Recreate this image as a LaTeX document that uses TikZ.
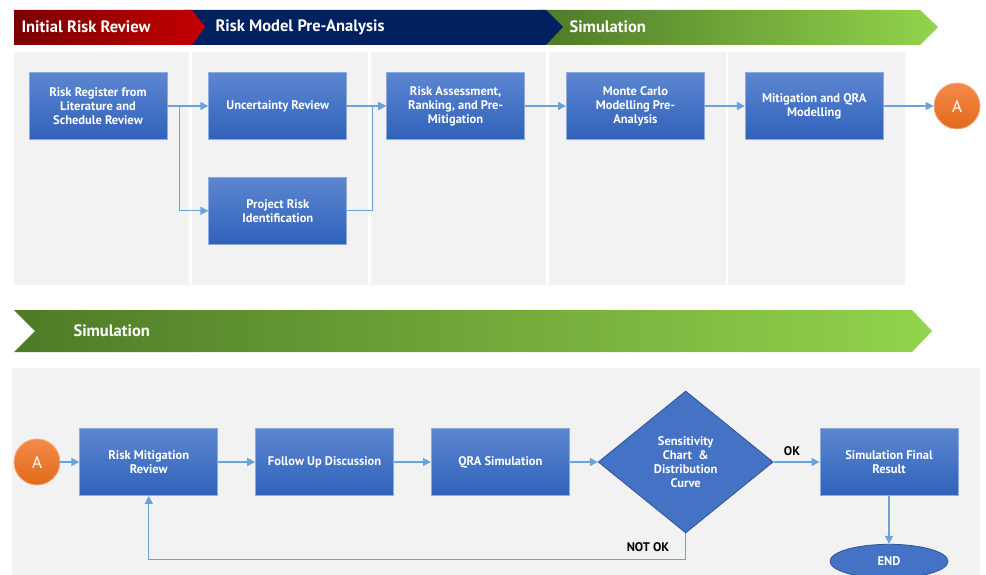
\documentclass[tikz,border=0pt]{standalone}
\usepackage{fontspec}
\setmainfont{PT Sans}
\usepackage{tikz}
\usetikzlibrary{arrows.meta, positioning, shapes.geometric}

\definecolor{panelgray}{RGB}{242,242,242}
\definecolor{boxtop}{RGB}{93,134,208}
\definecolor{boxbot}{RGB}{47,98,186}
\definecolor{boxrim}{RGB}{143,170,220}
\definecolor{diafill}{RGB}{68,114,196}
\definecolor{diarim}{RGB}{47,85,151}
\definecolor{flowblue}{RGB}{106,163,218}
\definecolor{orangetop}{RGB}{244,138,74}
\definecolor{orangebot}{RGB}{226,105,26}
\definecolor{redleft}{RGB}{122,0,0}
\definecolor{redright}{RGB}{196,0,0}
\definecolor{navy}{RGB}{0,32,96}
\definecolor{greenleft}{RGB}{78,122,39}
\definecolor{greenright}{RGB}{146,212,76}

\begin{document}
\begin{tikzpicture}[
  x=1pt, y=-1pt,
  stepbox/.style={draw=boxrim, line width=0.8pt, top color=boxtop, bottom color=boxbot,
    minimum width=138pt, minimum height=67pt, inner sep=2pt, align=center,
    text=white, font=\bfseries\fontsize{12.5}{14}\selectfont},
  decision/.style={diamond, draw=diarim, line width=0.8pt, fill=diafill, aspect=1.23,
    minimum width=175pt, minimum height=142pt, inner sep=0pt, align=center,
    text=white, font=\bfseries\fontsize{12.5}{14}\selectfont},
  endnode/.style={ellipse, draw=diarim, line width=0.8pt, fill=diafill,
    minimum width=118pt, minimum height=34pt, text=white,
    font=\bfseries\fontsize{12.5}{14}\selectfont},
  jump/.style={circle, draw=orangetop!70!white, line width=0.8pt, top color=orangetop,
    bottom color=orangebot, minimum size=46pt, inner sep=0pt, text=white,
    font=\fontsize{17}{18}\selectfont},
  phase/.style={anchor=west, text=white, font=\bfseries\fontsize{16.5}{18}\selectfont},
  lbl/.style={font=\bfseries\fontsize{12.5}{14}\selectfont},
  flow/.style={draw=flowblue, line width=1.2pt, -{Triangle[length=8pt,width=8pt]}}
]
\useasboundingbox (0,0) rectangle (986,575);

% phase banners
\shade[left color=greenleft, right color=greenright]
  (540,10) -- (920,10) -- (938,27) -- (920,45) -- (540,45) -- cycle;
\fill[navy] (185,10) -- (546,10) -- (563,27) -- (546,45) -- (185,45) -- cycle;
\shade[left color=redleft, right color=redright]
  (14,10) -- (192,10) -- (205,27) -- (192,45) -- (14,45) -- cycle;
\node[phase] (ph1) at (18,27) {Initial Risk Review};
\node[phase] (ph2) at (212,27) {Risk Model Pre-Analysis};
\node[phase] (ph3) at (566,27) {Simulation};

\shade[left color=greenleft, right color=greenright]
  (14,310) -- (912,310) -- (932,331) -- (912,352) -- (14,352) -- (35,331) -- cycle;
\node[phase] (ph4) at (70,331) {Simulation};

% gray panels
\fill[panelgray] (14,52) rectangle (189,285);
\fill[panelgray] (192,52) rectangle (368,285);
\fill[panelgray] (371,52) rectangle (546,285);
\fill[panelgray] (549,52) rectangle (726,285);
\fill[panelgray] (728,52) rectangle (905,285);
\fill[panelgray] (12,368) rectangle (980,575);

% pre-analysis chain
\node[stepbox] (reg) at (98,106) {Risk Register from\\Literature and\\Schedule Review};
\node[stepbox, right=41pt of reg] (uncert) {Uncertainty Review};
\node[stepbox, below=37pt of uncert] (ident) {Project Risk\\Identification};
\node[stepbox, right=39pt of uncert] (assess) {Risk Assessment,\\Ranking, and Pre-\\Mitigation};
\node[stepbox, right=41pt of assess] (monte) {Monte Carlo\\Modelling Pre-\\Analysis};
\node[stepbox, right=40pt of monte] (mitqra) {Mitigation and QRA\\Modelling};
\node[jump, right=50pt of mitqra] (a1) {A};

\draw[flow] (reg) -- (uncert);
\draw[flow] (reg.east) -- ++(12,0) |- (ident.west);
\draw[flow] (uncert) -- (assess);
\draw[flow] (ident.east) -- ++(25,0) |- (assess.west);
\draw[flow] (assess) -- (monte);
\draw[flow] (monte) -- (mitqra);
\draw[flow] (mitqra) -- (a1);

% simulation loop
\node[jump] (a2) at (37,462) {A};
\node[stepbox, right=19pt of a2] (mitrev) {Risk Mitigation\\Review};
\node[stepbox, right=37pt of mitrev] (follow) {Follow Up Discussion};
\node[stepbox, right=37pt of follow] (qra) {QRA Simulation};
\node[decision, right=28pt of qra] (sens) {Sensitivity\\Chart \ \&\\Distribution\\Curve};
\node[stepbox, right=46pt of sens] (final) {Simulation Final\\Result};
\node[endnode, below=48pt of final] (end) {END};

\draw[flow] (a2) -- (mitrev);
\draw[flow] (mitrev) -- (follow);
\draw[flow] (follow) -- (qra);
\draw[flow] (qra) -- (sens);
\draw[flow] (sens) -- (final);
\draw[flow] (final) -- (end);
\draw[flow] (sens.south) -- ++(0,26) -| (mitrev.south);

\node[lbl] (ok) at (792,451) {OK};
\node[lbl] (notok) at (648,547) {NOT OK};
\end{tikzpicture}
\end{document}
